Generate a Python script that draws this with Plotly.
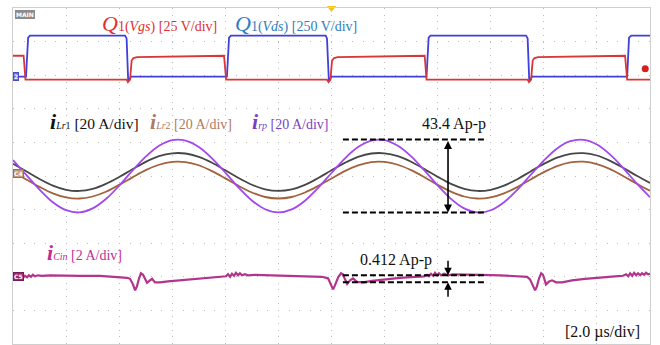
import numpy as np
import plotly.graph_objects as go

FONT = "Liberation Serif"

# ---- time base and screen grid ----
US_PER_DIV = 2.0
X_DIVS, Y_DIVS = 12, 10

# ---- channel scales (units/div) and trace positions (div) ----
VDS_SCALE, VDS_POS = 250.0, 2.955
VGS_SCALE, VGS_POS = 25.0, 2.955
I_SCALE = 20.0
ILR1_POS, ILR2_POS, IRP_POS = 0.12, -0.12, 0.0
ICIN_SCALE, ICIN_POS = 2.0, -3.0
TRIG_TIME_US, TRIG_LEVEL_V = 12.0, 6.0

# ---- Q1 drain-source voltage (V) ----
vds_t = [0.00, 0.49, 0.57, 0.64, 4.22, 4.28, 4.34, 4.45, 8.06, 8.14, 8.21,
         11.78, 11.83, 11.90, 12.00, 15.58, 15.66, 15.73, 19.33, 19.39,
         19.45, 19.56, 23.14, 23.21, 23.29, 24.00]
vds_v = [0, 0, 291, 306, 306, 285, -30, 0, 0, 291, 306,
         306, 285, -30, 0, 0, 291, 306, 306, 285,
         -30, 0, 0, 291, 306, 306]

# ---- Q1 gate-source voltage (V) ----
vgs_t = [0.00, 0.40, 0.47, 4.28, 4.33, 4.41, 4.47, 4.54, 4.67, 7.95, 8.03,
         11.83, 11.89, 11.96, 12.02, 12.10, 12.23, 15.51, 15.58,
         19.39, 19.44, 19.52, 19.58, 19.65, 19.78, 23.06, 23.14, 24.00]
vgs_v = [15.6, 15.6, -2.2, -2.2, -4.1, -2.2, 12.0, 13.9, 14.6, 15.6, -2.2,
         -2.2, -4.1, -2.2, 12.0, 13.9, 14.6, 15.6, -2.2,
         -2.2, -4.1, -2.2, 12.0, 13.9, 14.6, 15.6, -2.2, -2.2]

# ---- resonant currents (A), sampled every 0.5 us ----
cur_t = [0.0, 0.5, 1.0, 1.5, 2.0, 2.5, 3.0, 3.5, 4.0, 4.5, 5.0, 5.5, 6.0,
         6.5, 7.0, 7.5, 8.0, 8.5, 9.0, 9.5, 10.0, 10.5, 11.0, 11.5, 12.0,
         12.5, 13.0, 13.5, 14.0, 14.5, 15.0, 15.5, 16.0, 16.5, 17.0, 17.5,
         18.0, 18.5, 19.0, 19.5, 20.0, 20.5, 21.0, 21.5, 22.0, 22.5, 23.0,
         23.5, 24.0]
i_lr1 = [4.9, 0.4, -4.2, -8.1, -10.6, -11.3, -10.1, -7.1, -3.0, 1.6, 6.0,
         9.4, 11.1, 11.0, 9.0, 5.5, 1.0, -3.6, -7.6, -10.3, -11.3, -10.4,
         -7.7, -3.6, 1.0, 5.4, 9.0, 11.0, 11.1, 9.4, 6.1, 1.7, -2.9, -7.1,
         -10.0, -11.3, -10.6, -8.1, -4.3, 0.3, 4.8, 8.5, 10.8, 11.2, 9.8,
         6.6, 2.4, -2.3, -6.5]
i_lr2 = [4.8, 0.3, -4.1, -7.9, -10.3, -11.0, -9.8, -7.0, -2.9, 1.6, 5.9,
         9.1, 10.8, 10.7, 8.8, 5.3, 1.0, -3.5, -7.4, -10.1, -11.0, -10.1,
         -7.4, -3.5, 0.9, 5.3, 8.7, 10.7, 10.8, 9.1, 5.9, 1.7, -2.9, -6.9,
         -9.8, -11.0, -10.3, -7.9, -4.2, 0.3, 4.7, 8.3, 10.5, 10.9, 9.5,
         6.5, 2.3, -2.2, -6.4]
i_rp = [9.4, 0.7, -8.1, -15.6, -20.3, -21.7, -19.3, -13.7, -5.8, 3.2, 11.5,
        18.0, 21.4, 21.1, 17.3, 10.5, 2.0, -6.9, -14.6, -19.8, -21.7, -19.9,
        -14.7, -7.0, 1.8, 10.4, 17.2, 21.1, 21.4, 18.0, 11.7, 3.3, -5.6,
        -13.6, -19.3, -21.7, -20.4, -15.6, -8.2, 0.6, 9.2, 16.4, 20.7, 21.5,
        18.7, 12.7, 4.6, -4.4, -12.6]

# ---- input capacitor current (A) ----
icin_t = [0.00, 0.08, 0.15, 0.23, 0.30, 0.38, 0.45, 0.53, 0.60, 0.68,
          0.75, 0.83, 0.94, 1.09, 1.39, 1.96, 2.52, 3.28, 3.84, 4.30,
          4.41, 4.52, 4.60, 4.67, 4.75, 4.82, 4.90, 4.97, 5.05, 5.16,
          5.24, 5.35, 5.54, 5.84, 6.29, 6.86, 7.42, 7.88, 8.03, 8.10,
          8.18, 8.25, 8.33, 8.40, 8.48, 8.55, 8.63, 8.74, 8.85, 9.12,
          9.68, 10.44, 11.19, 11.64, 11.87, 11.98, 12.06, 12.13, 12.25, 12.36,
          12.43, 12.51, 12.59, 12.70, 12.81, 12.96, 13.19, 13.53, 14.02, 14.58,
          15.15, 15.49, 15.60, 15.67, 15.75, 15.83, 15.90, 15.98, 16.05, 16.13,
          16.24, 16.39, 16.58, 17.03, 17.60, 18.35, 18.92, 19.37, 19.48, 19.59,
          19.67, 19.74, 19.82, 19.90, 19.97, 20.08, 20.20, 20.31, 20.46, 20.69,
          21.06, 21.55, 22.12, 22.68, 22.98, 23.10, 23.18, 23.25, 23.33, 23.40,
          23.48, 23.55, 23.63, 23.70, 23.78, 23.85, 23.93, 24.00]
i_cin = [-0.06, -0.15, 0.00, -0.09, 0.03, -0.06, 0.06, -0.03, 0.09, 0.00,
         0.12, 0.03, 0.09, 0.06, 0.09, 0.06, 0.06, 0.06, 0.00, -0.06,
         -0.12, -0.45, -0.81, -0.57, -0.09, 0.21, 0.12, -0.15, -0.36, -0.21,
         -0.12, -0.33, -0.33, -0.27, -0.21, -0.15, -0.09, -0.03, 0.03, 0.15,
         0.00, 0.18, 0.06, 0.24, 0.09, 0.21, 0.09, 0.15, 0.09, 0.12,
         0.09, 0.06, 0.03, 0.00, -0.09, -0.45, -0.75, -0.51, -0.03, 0.21,
         0.15, -0.15, -0.42, -0.21, -0.09, -0.30, -0.33, -0.24, -0.15, -0.06,
         0.00, 0.03, 0.12, 0.03, 0.18, 0.06, 0.24, 0.09, 0.21, 0.09,
         0.18, 0.09, 0.15, 0.12, 0.12, 0.09, 0.06, 0.00, -0.15, -0.51,
         -0.81, -0.57, -0.09, 0.21, 0.12, -0.45, -0.27, -0.21, -0.33, -0.33,
         -0.21, -0.12, -0.03, 0.03, 0.06, 0.15, 0.03, 0.21, 0.06, 0.24,
         0.09, 0.21, 0.09, 0.21, 0.12, 0.24, 0.15, 0.18]

# ---- measured peak-to-peak values ----
IRP_PP = 43.4          # A
ICIN_PP = 0.412        # A
ICIN_PP_MID = -0.12    # A, middle of the measured band
MEAS_T0, MEAS_T1, MEAS_ARROW_T = 12.43, 17.86, 16.39


def on_screen(values, scale, pos):
    return pos + np.asarray(values, dtype=float) / scale


fig = go.Figure()

fig.add_trace(go.Scatter(x=vds_t, y=on_screen(vds_v, VDS_SCALE, VDS_POS),
                         mode="lines", line=dict(color="#3f3fdf", width=1.8)))
fig.add_trace(go.Scatter(x=vgs_t, y=on_screen(vgs_v, VGS_SCALE, VGS_POS),
                         mode="lines", line=dict(color="#d93636", width=1.8)))
fig.add_trace(go.Scatter(x=cur_t, y=on_screen(i_lr2, I_SCALE, ILR2_POS),
                         mode="lines", line=dict(color="#a2623e", width=1.8, shape="spline")))
fig.add_trace(go.Scatter(x=cur_t, y=on_screen(i_lr1, I_SCALE, ILR1_POS),
                         mode="lines", line=dict(color="#474747", width=1.8, shape="spline")))
fig.add_trace(go.Scatter(x=cur_t, y=on_screen(i_rp, I_SCALE, IRP_POS),
                         mode="lines", line=dict(color="#a347ee", width=1.8, shape="spline")))
fig.add_trace(go.Scatter(x=icin_t, y=on_screen(i_cin, ICIN_SCALE, ICIN_POS),
                         mode="lines", line=dict(color="#b2358c", width=2.2)))

# trigger time and trigger level indicators
fig.add_trace(go.Scatter(x=[TRIG_TIME_US], y=[Y_DIVS / 2], mode="markers", cliponaxis=False,
                         marker=dict(symbol="triangle-down", size=8, color="#f2c21b")))
fig.add_trace(go.Scatter(x=[X_DIVS * US_PER_DIV - 0.18],
                         y=[VGS_POS + TRIG_LEVEL_V / VGS_SCALE], mode="markers",
                         marker=dict(symbol="circle", size=7, color="#d42020")))

# peak-to-peak measurement cursors
shapes = []
irp_hi = IRP_POS + IRP_PP / 2 / I_SCALE
irp_lo = IRP_POS - IRP_PP / 2 / I_SCALE
cin_hi = ICIN_POS + (ICIN_PP_MID + ICIN_PP / 2) / ICIN_SCALE
cin_lo = ICIN_POS + (ICIN_PP_MID - ICIN_PP / 2) / ICIN_SCALE
for yv in (irp_hi, irp_lo, cin_hi, cin_lo):
    shapes.append(dict(type="line", xref="x", yref="y", x0=MEAS_T0, x1=MEAS_T1,
                       y0=yv, y1=yv, line=dict(color="black", width=2, dash="6px,3px")))

annotations = []


def label(x, y, text, color, size, anchor="left"):
    annotations.append(dict(x=x, y=y, xref="x", yref="y", text=text, showarrow=False,
                            xanchor=anchor, yanchor="middle",
                            font=dict(family=FONT, size=size, color=color)))


BIG = "<span style='font-size:22px'>"
label(3.28, 4.55, BIG + "<i>Q</i></span>1(<i>Vgs</i>) [25 V/div]", "#e02f2f", 14)
label(8.29, 4.55, BIG + "<i>Q</i></span>1(<i>Vds</i>) [250 V/div]", "#2f7dbd", 14)
label(1.32, 1.62, BIG + "<b><i>i</i></b></span><span style='font-size:10px'><i>Lr</i>1</span> [20 A/div]",
      "#111111", 15.5)
label(5.09, 1.62, BIG + "<b><i>i</i></b></span><span style='font-size:10px'><i>Lr</i>2</span> [20 A/div]",
      "#b07a62", 14)
label(8.93, 1.62, BIG + "<b><i>i</i></b></span><span style='font-size:10px'><i>rp</i></span> [20 A/div]",
      "#7b3fc4", 14)
label(1.21, -2.29, BIG + "<b><i>i</i></b></span><span style='font-size:10px'><i>Cin</i></span> [2 A/div]",
      "#c02e95", 14)
label(16.62, 1.55, f"{IRP_PP} Ap-p", "#111111", 16, "center")
label(14.43, -2.50, f"{ICIN_PP} Ap-p", "#111111", 16, "center")
label(23.70, -4.64, "[2.0 \u00b5s/div]", "#111111", 16, "right")

# double-headed arrow spanning the i_rp peak-to-peak
annotations.append(dict(x=MEAS_ARROW_T, y=irp_lo, ax=MEAS_ARROW_T, ay=irp_hi,
                        xref="x", yref="y", axref="x", ayref="y", text="",
                        showarrow=True, arrowhead=2, startarrowhead=2, arrowside="end+start",
                        arrowwidth=1.6, arrowsize=1, arrowcolor="black"))
# pinching arrows on the i_Cin band
annotations.append(dict(x=MEAS_ARROW_T, y=cin_hi, ax=0, ay=-16, xref="x", yref="y", text="",
                        showarrow=True, arrowhead=2, arrowwidth=1.5, arrowsize=1,
                        arrowcolor="black"))
annotations.append(dict(x=MEAS_ARROW_T, y=cin_lo, ax=0, ay=16, xref="x", yref="y", text="",
                        showarrow=True, arrowhead=2, arrowwidth=1.5, arrowsize=1,
                        arrowcolor="black"))

# scope badges: display mode and channel ground markers
def badge(x, y, text, bg, border, anchor="left"):
    annotations.append(dict(x=x, y=y, xref="x", yref="y", text=text, showarrow=False,
                            xanchor=anchor, yanchor="middle", bgcolor=bg, bordercolor=border,
                            borderwidth=1, borderpad=0,
                            font=dict(family="DejaVu Sans", size=6, color="white")))


badge(0.08, 4.82, "<b>MAIN</b>", "#8c8c8c", "#8c8c8c")
badge(0.0, VDS_POS, "<b>2</b>", "#7070e6", "#4a4ac8")
badge(0.0, 0.06, "<b>C4</b>", "#c49a78", "#9a6e4e")
badge(0.0, ICIN_POS, "<b>C5</b>", "#a0276f", "#7a1a55")

grid_color = "#bdbdbd"
fig.update_layout(
    width=660, height=345,
    margin=dict(l=13, r=10, t=8, b=1),
    paper_bgcolor="white", plot_bgcolor="white",
    showlegend=False,
    shapes=shapes, annotations=annotations,
    xaxis=dict(range=[0, X_DIVS * US_PER_DIV], tick0=0, dtick=US_PER_DIV,
               showticklabels=False, ticks="", zeroline=False,
               showgrid=True, gridcolor=grid_color, gridwidth=1.3, griddash="1px,5.7px",
               showline=True, mirror=True, linecolor="#cfcfcf", linewidth=1),
    yaxis=dict(range=[-Y_DIVS / 2, Y_DIVS / 2], tick0=0, dtick=1,
               showticklabels=False, ticks="", zeroline=False,
               showgrid=True, gridcolor=grid_color, gridwidth=1.3, griddash="1px,9.6px",
               showline=True, mirror=True, linecolor="#cfcfcf", linewidth=1),
)

fig.write_html("out.html")
